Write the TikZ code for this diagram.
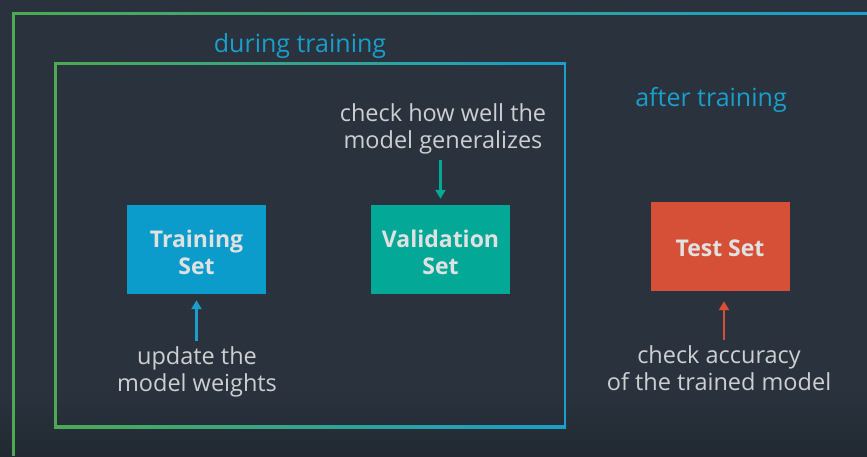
\documentclass[tikz,border=0pt]{standalone}
\usepackage{fontspec}
\setmainfont{Open Sans}
\usetikzlibrary{arrows.meta}
\definecolor{bg}{HTML}{29323D}
\definecolor{grn}{HTML}{4CAA52}
\definecolor{blu}{HTML}{1A9ECC}
\definecolor{lbl}{HTML}{CDCFD1}
\definecolor{boxtxt}{HTML}{E0E2E2}
\definecolor{trainc}{HTML}{0B9CCC}
\definecolor{valc}{HTML}{04A896}
\definecolor{testc}{HTML}{D65038}
\begin{document}
\begin{tikzpicture}[x=1pt,y=-1pt,
  setbox/.style={minimum width=139pt,minimum height=89pt,inner sep=0pt,text=boxtxt,
    font=\fontsize{23}{27}\selectfont\bfseries,align=center},
  lab/.style={text=lbl,font=\fontsize{23.5}{27}\selectfont,align=center,inner sep=0pt},
  head/.style={text=blu,font=\fontsize{25}{28}\selectfont,inner sep=0pt},
  arr/.style={line width=2.6pt,-{Triangle[length=9pt,width=10pt]}}]
\fill[bg] (0,0) rectangle (867,456);
\shade[top color=bg,bottom color=bg!82!black] (0,395) rectangle (867,456);
% outer frame
\shade[left color=grn,right color=blu] (12,12) rectangle (867,14.5);
\fill[grn] (12,12) rectangle (14.5,456);
% inner frame
\shade[left color=grn,right color=blu] (54,62) rectangle (566,64.5);
\shade[left color=grn,right color=blu] (54,425.5) rectangle (566,428);
\fill[grn] (54,62) rectangle (56.5,428);
\fill[blu] (563.5,62) rectangle (566,428);
% headings
\node[head] (during) at (300,46) {during training};
\node[head] (after) at (711,100) {after training};
% boxes
\node[setbox,fill=trainc] (train) at (196.5,249.5) {\rule{0pt}{24pt}Training\\Set};
\node[setbox,fill=valc] (val) at (440.5,249.5) {\rule{0pt}{24pt}Validation\\Set};
\node[setbox,fill=testc] (test) at (720,246.5) {\rule{0pt}{21pt}Test Set};
% labels
\node[lab] (ltrain) at (197,372) {update the\\model weights};
\node[lab] (lval) at (443,129) {check how well the\\model generalizes};
\node[lab] (ltest) at (719,368) {check accuracy\\of the trained model};
% arrows
\draw[arr,blu] ([yshift=6pt]ltrain.north -| train.south) -- ([yshift=-6pt]train.south);
\draw[arr,valc] ([yshift=-6pt]lval.south -| val.north) -- ([yshift=6pt]val.north);
\draw[arr,testc] ([yshift=5pt]ltest.north -| 724,0) -- ([yshift=-10pt]test.south -| 724,0);
\end{tikzpicture}
\end{document}
